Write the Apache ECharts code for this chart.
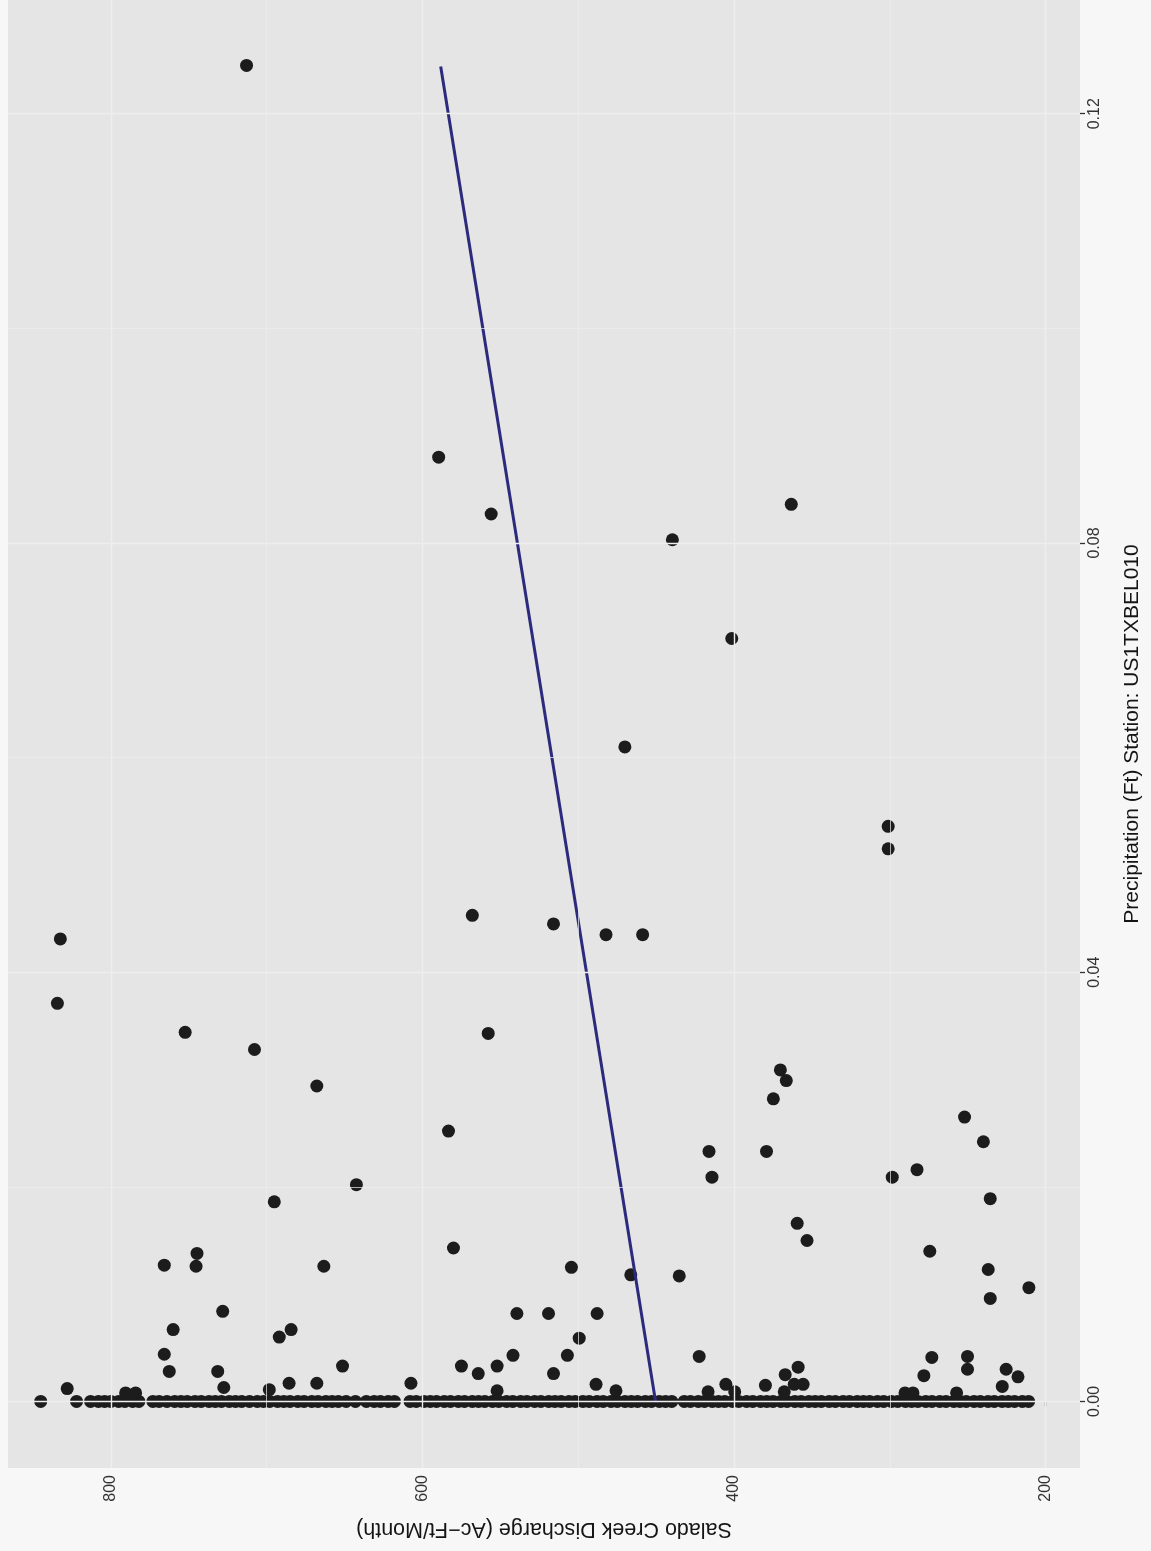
<!DOCTYPE html>
<html>
<head>
<meta charset="utf-8">
<script src="https://cdn.jsdelivr.net/npm/echarts@6/dist/echarts.min.js"></script>
<style>
  html, body { margin: 0; padding: 0; background: #f7f7f7; }
  #chart { width: 1151px; height: 1551px; }
</style>
</head>
<body>
<div id="chart"></div>
<script>
// Monthly discharge (Ac-Ft/Month) against monthly precipitation (ft), plotted on its side:
// precipitation runs up the page, discharge runs right-to-left.

// Months with measurable precipitation
const dischargeWet = [
  712.9, 589.6, 555.9, 363.3, 439.6, 401.5, 470.1, 301.1, 301.1, 832.4,
  834.3, 568.0, 515.9, 482.2, 458.7, 752.3, 557.8, 707.8, 667.8, 370.3,
  366.5, 374.8, 252.1, 240.0, 416.1, 379.2, 414.2, 298.5, 282.6, 235.6,
  359.5, 353.2, 274.4, 236.9, 210.8, 235.6, 583.3, 642.4, 695.1, 580.1,
  765.7, 744.7, 745.3, 663.3, 504.4, 466.3, 435.2, 728.2, 760.0, 691.9,
  684.3, 765.7, 762.5, 731.4, 651.3, 685.6, 667.8, 828.0, 539.4, 519.1,
  487.9, 499.4, 541.9, 507.0, 422.4, 575.0, 564.2, 552.1, 515.9, 607.4,
  488.6, 552.1, 475.8, 416.7, 405.3, 399.6, 379.9, 367.2, 358.9, 367.8,
  361.4, 355.7, 273.1, 278.2, 250.2, 250.2, 225.4, 217.8, 227.9, 290.3,
  285.2, 257.2, 790.5, 784.1, 727.5, 698.3
];
const precipWet = [
  0.1245, 0.0880, 0.0827, 0.0836, 0.0803, 0.0711, 0.0610, 0.0536, 0.0515, 0.0431,
  0.0371, 0.0453, 0.0445, 0.0435, 0.0435, 0.0344, 0.0343, 0.0328, 0.0294, 0.0309,
  0.0299, 0.0282, 0.0265, 0.0242, 0.0233, 0.0233, 0.0209, 0.0209, 0.0216, 0.0189,
  0.0166, 0.0150, 0.0140, 0.0123, 0.0106, 0.0096, 0.0252, 0.0202, 0.0186, 0.0143,
  0.0127, 0.0138, 0.0126, 0.0126, 0.0125, 0.0118, 0.0117, 0.0084, 0.0067, 0.0060,
  0.0067, 0.0044, 0.0028, 0.0028, 0.0033, 0.0017, 0.0017, 0.0012, 0.0082, 0.0082,
  0.0082, 0.0059, 0.0043, 0.0043, 0.0042, 0.0033, 0.0026, 0.0033, 0.0026, 0.0017,
  0.0016, 0.0010, 0.0010, 0.0009, 0.0016, 0.0009, 0.0015, 0.0025, 0.0032, 0.0009,
  0.0016, 0.0016, 0.0041, 0.0024, 0.0042, 0.0030, 0.0030, 0.0023, 0.0014, 0.0008,
  0.0008, 0.0008, 0.0008, 0.0008, 0.0013, 0.0011
];

// Months with zero recorded precipitation
const dischargeDry = [
  845, 822, 813, 808, 804, 800, 795, 791, 786, 782,
  773, 769, 764, 759, 755, 751, 746, 742, 737, 733, 729, 724, 720, 716, 711, 706,
  702, 698, 693, 689, 685, 680, 676, 671, 667, 662, 658, 654, 649,
  643, 636, 631, 627, 622, 618,
  608, 604, 599, 595, 591, 586, 582, 577, 573, 568, 564, 560, 555, 551, 546, 542,
  537, 533, 528, 524, 519, 515, 511, 506, 502, 497, 493, 488, 484, 479, 475, 470,
  466, 462, 457, 453, 448, 444, 440,
  432, 428, 423, 419, 414, 410, 406, 401, 397, 392, 388, 383, 379, 375, 370, 366,
  361, 357, 352, 348, 344, 339, 335, 330, 326, 321, 317, 313, 308, 304, 299, 295,
  290, 286, 282, 277, 273, 268, 264, 259, 255, 251, 246, 242, 237, 233, 228, 224,
  220, 215, 211
];

// Least-squares fit, drawn across the precipitation range
const fitPrecip = [0, 0.1244];
const fitDischarge = [450.4, 588.3];

// Axis breaks
const dischargeBreaks = [200, 400, 600, 800];
const dischargeMinor = [300, 500, 700];
const precipBreaks = [0, 0.04, 0.08, 0.12];
const precipMinor = [0.02, 0.06, 0.10];

const FONT = "'Liberation Sans', Arial, Helvetica, sans-serif";

const wetPoints = dischargeWet.map((d, i) => [d, precipWet[i]]);
const dryPoints = dischargeDry.map(d => [d, 0]);
const fitLine = fitDischarge.map((d, i) => [d, fitPrecip[i]]);

const gridLines = [
  ...dischargeBreaks.map(v => ({ xAxis: v, lineStyle: { width: 1.4 } })),
  ...dischargeMinor.map(v => ({ xAxis: v, lineStyle: { width: 0.7 } })),
  ...precipBreaks.map(v => ({ yAxis: v, lineStyle: { width: 1.4 } })),
  ...precipMinor.map(v => ({ yAxis: v, lineStyle: { width: 0.7 } }))
];

const chart = echarts.init(document.getElementById('chart'), null, { renderer: 'canvas' });
chart.setOption({
  backgroundColor: '#f7f7f7',
  animation: false,
  grid: {
    left: 8, right: 61, top: 0, bottom: 83,
    show: true, backgroundColor: '#e5e5e5', borderWidth: 0
  },
  xAxis: {
    type: 'value',
    inverse: true,
    min: 178, max: 866,
    position: 'bottom',
    splitLine: { show: false },
    axisLine: { show: false },
    axisTick: {
      show: true, customValues: dischargeBreaks, length: 5,
      lineStyle: { color: '#333', width: 1.3 }
    },
    axisLabel: {
      customValues: dischargeBreaks, rotate: 90, margin: 7,
      fontSize: 16, color: '#333', fontFamily: FONT
    },
    name: 'Salado Creek Discharge (Ac\u2212Ft/Month)',
    nameLocation: 'middle',
    nameRotate: 180,
    nameGap: 50,
    nameTextStyle: { fontSize: 21.5, color: '#151515', fontFamily: FONT }
  },
  yAxis: {
    type: 'value',
    position: 'right',
    min: -0.0062, max: 0.1306,
    splitLine: { show: false },
    axisLine: { show: false },
    axisTick: {
      show: true, customValues: precipBreaks, length: 5,
      lineStyle: { color: '#333', width: 1.3 }
    },
    axisLabel: {
      customValues: precipBreaks, rotate: 90, margin: 7,
      fontSize: 16, color: '#333', fontFamily: FONT,
      formatter: v => v.toFixed(2)
    },
    name: 'Precipitation (Ft) Station: US1TXBEL010',
    nameLocation: 'middle',
    nameRotate: 90,
    nameGap: 42,
    nameTextStyle: { fontSize: 21, color: '#151515', fontFamily: FONT }
  },
  series: [
    {
      name: 'grid',
      type: 'line',
      data: [],
      z: 1,
      silent: true,
      markLine: {
        silent: true,
        symbol: 'none',
        label: { show: false },
        lineStyle: { color: '#eeeeee', type: 'solid' },
        data: gridLines
      }
    },
    {
      name: 'dry',
      type: 'scatter',
      data: dryPoints,
      symbolSize: 13,
      itemStyle: { color: '#1c1c1c', opacity: 1 },
      z: 3
    },
    {
      name: 'wet',
      type: 'scatter',
      data: wetPoints,
      symbolSize: 13,
      itemStyle: { color: '#1c1c1c', opacity: 1 },
      z: 3
    },
    {
      name: 'fit',
      type: 'line',
      data: fitLine,
      symbol: 'none',
      lineStyle: { color: '#2c2a7c', width: 3 },
      z: 4
    }
  ]
});
</script>
</body>
</html>
